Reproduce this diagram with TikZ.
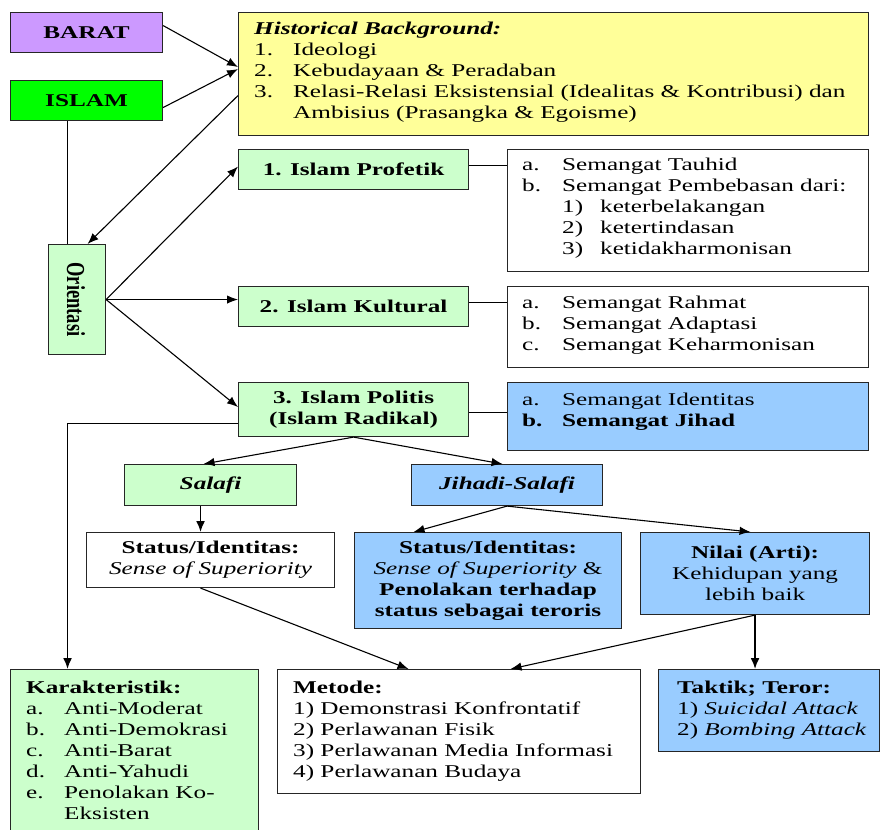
\documentclass[tikz,border=0pt]{standalone}
\usepackage{fontspec}
\setmainfont{Liberation Serif}[FakeStretch=1.4]
\newfontfamily\plainserif{Liberation Serif}
\usetikzlibrary{arrows.meta}
\definecolor{cpurple}{HTML}{CC99FF}
\definecolor{cgreen}{HTML}{00FF00}
\definecolor{cyellow}{HTML}{FFFF99}
\definecolor{lgreen}{HTML}{CCFFCC}
\definecolor{lblue}{HTML}{99CCFF}
\newcommand\mkbox[7]{%
  \node[box, fill=#6, minimum width=#4pt-#2pt, minimum height=#5pt-#3pt] (#1) at (#2,#3) {#7};}
\begin{document}
\begin{tikzpicture}[x=1pt,y=-1pt,
  font=\fontsize{18}{21}\selectfont,
  box/.style={draw=black!85, line width=1.1pt, inner sep=0pt, anchor=north west, align=center},
  txt/.style={anchor=base west, inner sep=0pt},
  arr/.style={-{Latex[length=11pt,width=8.5pt]}, line width=1.1pt},
  tarr/.style={-{Latex[length=11pt,width=9pt]}, line width=1.8pt},
  ln/.style={line width=1.1pt}]
\fill[white] (0,0) rectangle (881,830);
\useasboundingbox (0,0) rectangle (881,830);

% boxes
\mkbox{barat}{10}{12}{162}{52}{cpurple}{\textbf{BARAT}}
\mkbox{islam}{10}{80}{162}{120}{cgreen}{\textbf{ISLAM}}
\mkbox{hist}{238}{12}{868}{135}{cyellow}{}
\mkbox{prof}{238}{149}{468}{189}{lgreen}{\textbf{1. Islam Profetik}}
\mkbox{ra}{507}{149}{868}{271}{white}{}
\mkbox{kult}{238}{286}{468}{326}{lgreen}{\textbf{2. Islam Kultural}}
\mkbox{rb}{507}{286}{868}{367}{white}{}
\mkbox{poli}{238}{382}{468}{436}{lgreen}{\textbf{3. Islam Politis}\\\textbf{(Islam Radikal)}}
\mkbox{rc}{507}{382}{868}{450}{lblue}{}
\mkbox{orient}{48}{244}{105}{354}{lgreen}{}
\mkbox{salafi}{124}{464}{296}{505}{lgreen}{\textbf{\textit{Salafi}}}
\mkbox{jihadi}{411}{464}{602}{505}{lblue}{\textbf{\textit{Jihadi-Salafi}}}
\mkbox{stat1}{86}{532}{334}{587}{white}{\textbf{Status/Identitas:}\\\textit{Sense of Superiority}}
\mkbox{stat2}{354}{532}{621}{628}{lblue}{\textbf{Status/Identitas:}\\\textit{Sense of Superiority} \&\\\textbf{Penolakan terhadap}\\\textbf{status sebagai teroris}}
\mkbox{nilai}{640}{532}{869}{614}{lblue}{\textbf{Nilai (Arti):}\\Kehidupan yang\\lebih baik}
\mkbox{kar}{10}{669}{258}{834}{lgreen}{}
\mkbox{metode}{277}{669}{640}{793}{white}{}
\mkbox{taktik}{658}{669}{879}{751}{lblue}{}

% texts
\node[rotate=-90] (orienttext) at ([xshift=-1pt]orient.center)
  {\scalebox{1}[1.4]{\fontsize{18.5}{21}\plainserif\bfseries Orientasi}};
\node[txt] (histtext) at (254,34) {\begin{tabular}[t]{@{}p{39pt}@{}l@{}}
  \multicolumn{2}{@{}l@{}}{\textbf{\textit{Historical Background:}}}\\
  1. & Ideologi\\
  2. & Kebudayaan \& Peradaban\\
  3. & Relasi-Relasi Eksistensial (Idealitas \& Kontribusi) dan\\
     & Ambisius (Prasangka \& Egoisme)
  \end{tabular}};
\node[txt] (ratext) at (522,170) {\begin{tabular}[t]{@{}p{40pt}@{}p{38pt}@{}l@{}}
  a. & \multicolumn{2}{@{}l@{}}{Semangat Tauhid}\\
  b. & \multicolumn{2}{@{}l@{}}{Semangat Pembebasan dari:}\\
     & 1) & keterbelakangan\\
     & 2) & ketertindasan\\
     & 3) & ketidakharmonisan
  \end{tabular}};
\node[txt] (rbtext) at (522,308) {\begin{tabular}[t]{@{}p{40pt}@{}l@{}}
  a. & Semangat Rahmat\\
  b. & Semangat Adaptasi\\
  c. & Semangat Keharmonisan
  \end{tabular}};
\node[txt] (rctext) at (522,405) {\begin{tabular}[t]{@{}p{40pt}@{}l@{}}
  a. & Semangat Identitas\\
  \textbf{b.} & \textbf{Semangat Jihad}
  \end{tabular}};
\node[txt] (kartext) at (26,693) {\begin{tabular}[t]{@{}p{38pt}@{}l@{}}
  \multicolumn{2}{@{}l@{}}{\textbf{Karakteristik:}}\\
  a. & Anti-Moderat\\
  b. & Anti-Demokrasi\\
  c. & Anti-Barat\\
  d. & Anti-Yahudi\\
  e. & Penolakan Ko-\\
     & Eksisten
  \end{tabular}};
\node[txt] (metodetext) at (293,693) {\begin{tabular}[t]{@{}l@{}}
  \textbf{Metode:}\\
  1) Demonstrasi Konfrontatif\\
  2) Perlawanan Fisik\\
  3) Perlawanan Media Informasi\\
  4) Perlawanan Budaya
  \end{tabular}};
\node[txt] (taktiktext) at (677,693) {\begin{tabular}[t]{@{}l@{}}
  \textbf{Taktik; Teror:}\\
  1) \textit{Suicidal Attack}\\
  2) \textit{Bombing Attack}
  \end{tabular}};

% connectors
\draw[arr] ([yshift=7pt]barat.east) -- ([yshift=7pt]hist.west);
\draw[arr] ([yshift=-7pt]islam.east) -- ([yshift=5pt]hist.west);
\draw[arr] ([yshift=-21.5pt]hist.west) -- ([xshift=10.5pt]orient.north);
\draw[ln] ([xshift=-19pt]islam.south) -- ([xshift=-19pt]islam.south |- orient.north);
\draw[arr] (orient.east) -- ([yshift=3pt]prof.west);
\draw[arr] (orient.east) -- (orient.east -| kult.west);
\draw[arr] (orient.east) -- ([yshift=2.5pt]poli.west);
\draw[ln] ([yshift=4pt]prof.east) -- ([yshift=4pt]prof.east -| ra.west);
\draw[ln] ([yshift=4pt]kult.east) -- ([yshift=4pt]kult.east -| rb.west);
\draw[ln] ([yshift=-3pt]poli.east) -- ([yshift=-3pt]poli.east -| rc.west);
\draw[tarr] ([yshift=-14pt]poli.west) -| ([xshift=-67pt]kar.north);
\draw[arr] (poli.south) -- ([xshift=-7pt]salafi.north);
\draw[arr] (poli.south) -- ([xshift=-4.5pt]jihadi.north);
\draw[tarr] ([xshift=-10pt]salafi.south) -- ([xshift=-10pt]stat1.north);
\draw[arr] (jihadi.south) -- ([xshift=-74.5pt]stat2.north);
\draw[arr] (jihadi.south) -- ([xshift=-4.5pt]nilai.north);
\draw[arr] ([xshift=-10pt]stat1.south) -- ([xshift=-50.5pt]metode.north);
\draw[arr] (nilai.south) -- ([xshift=51.5pt]metode.north);
\draw[tarr] (nilai.south) -- (nilai.south |- taktik.north);
\end{tikzpicture}
\end{document}
